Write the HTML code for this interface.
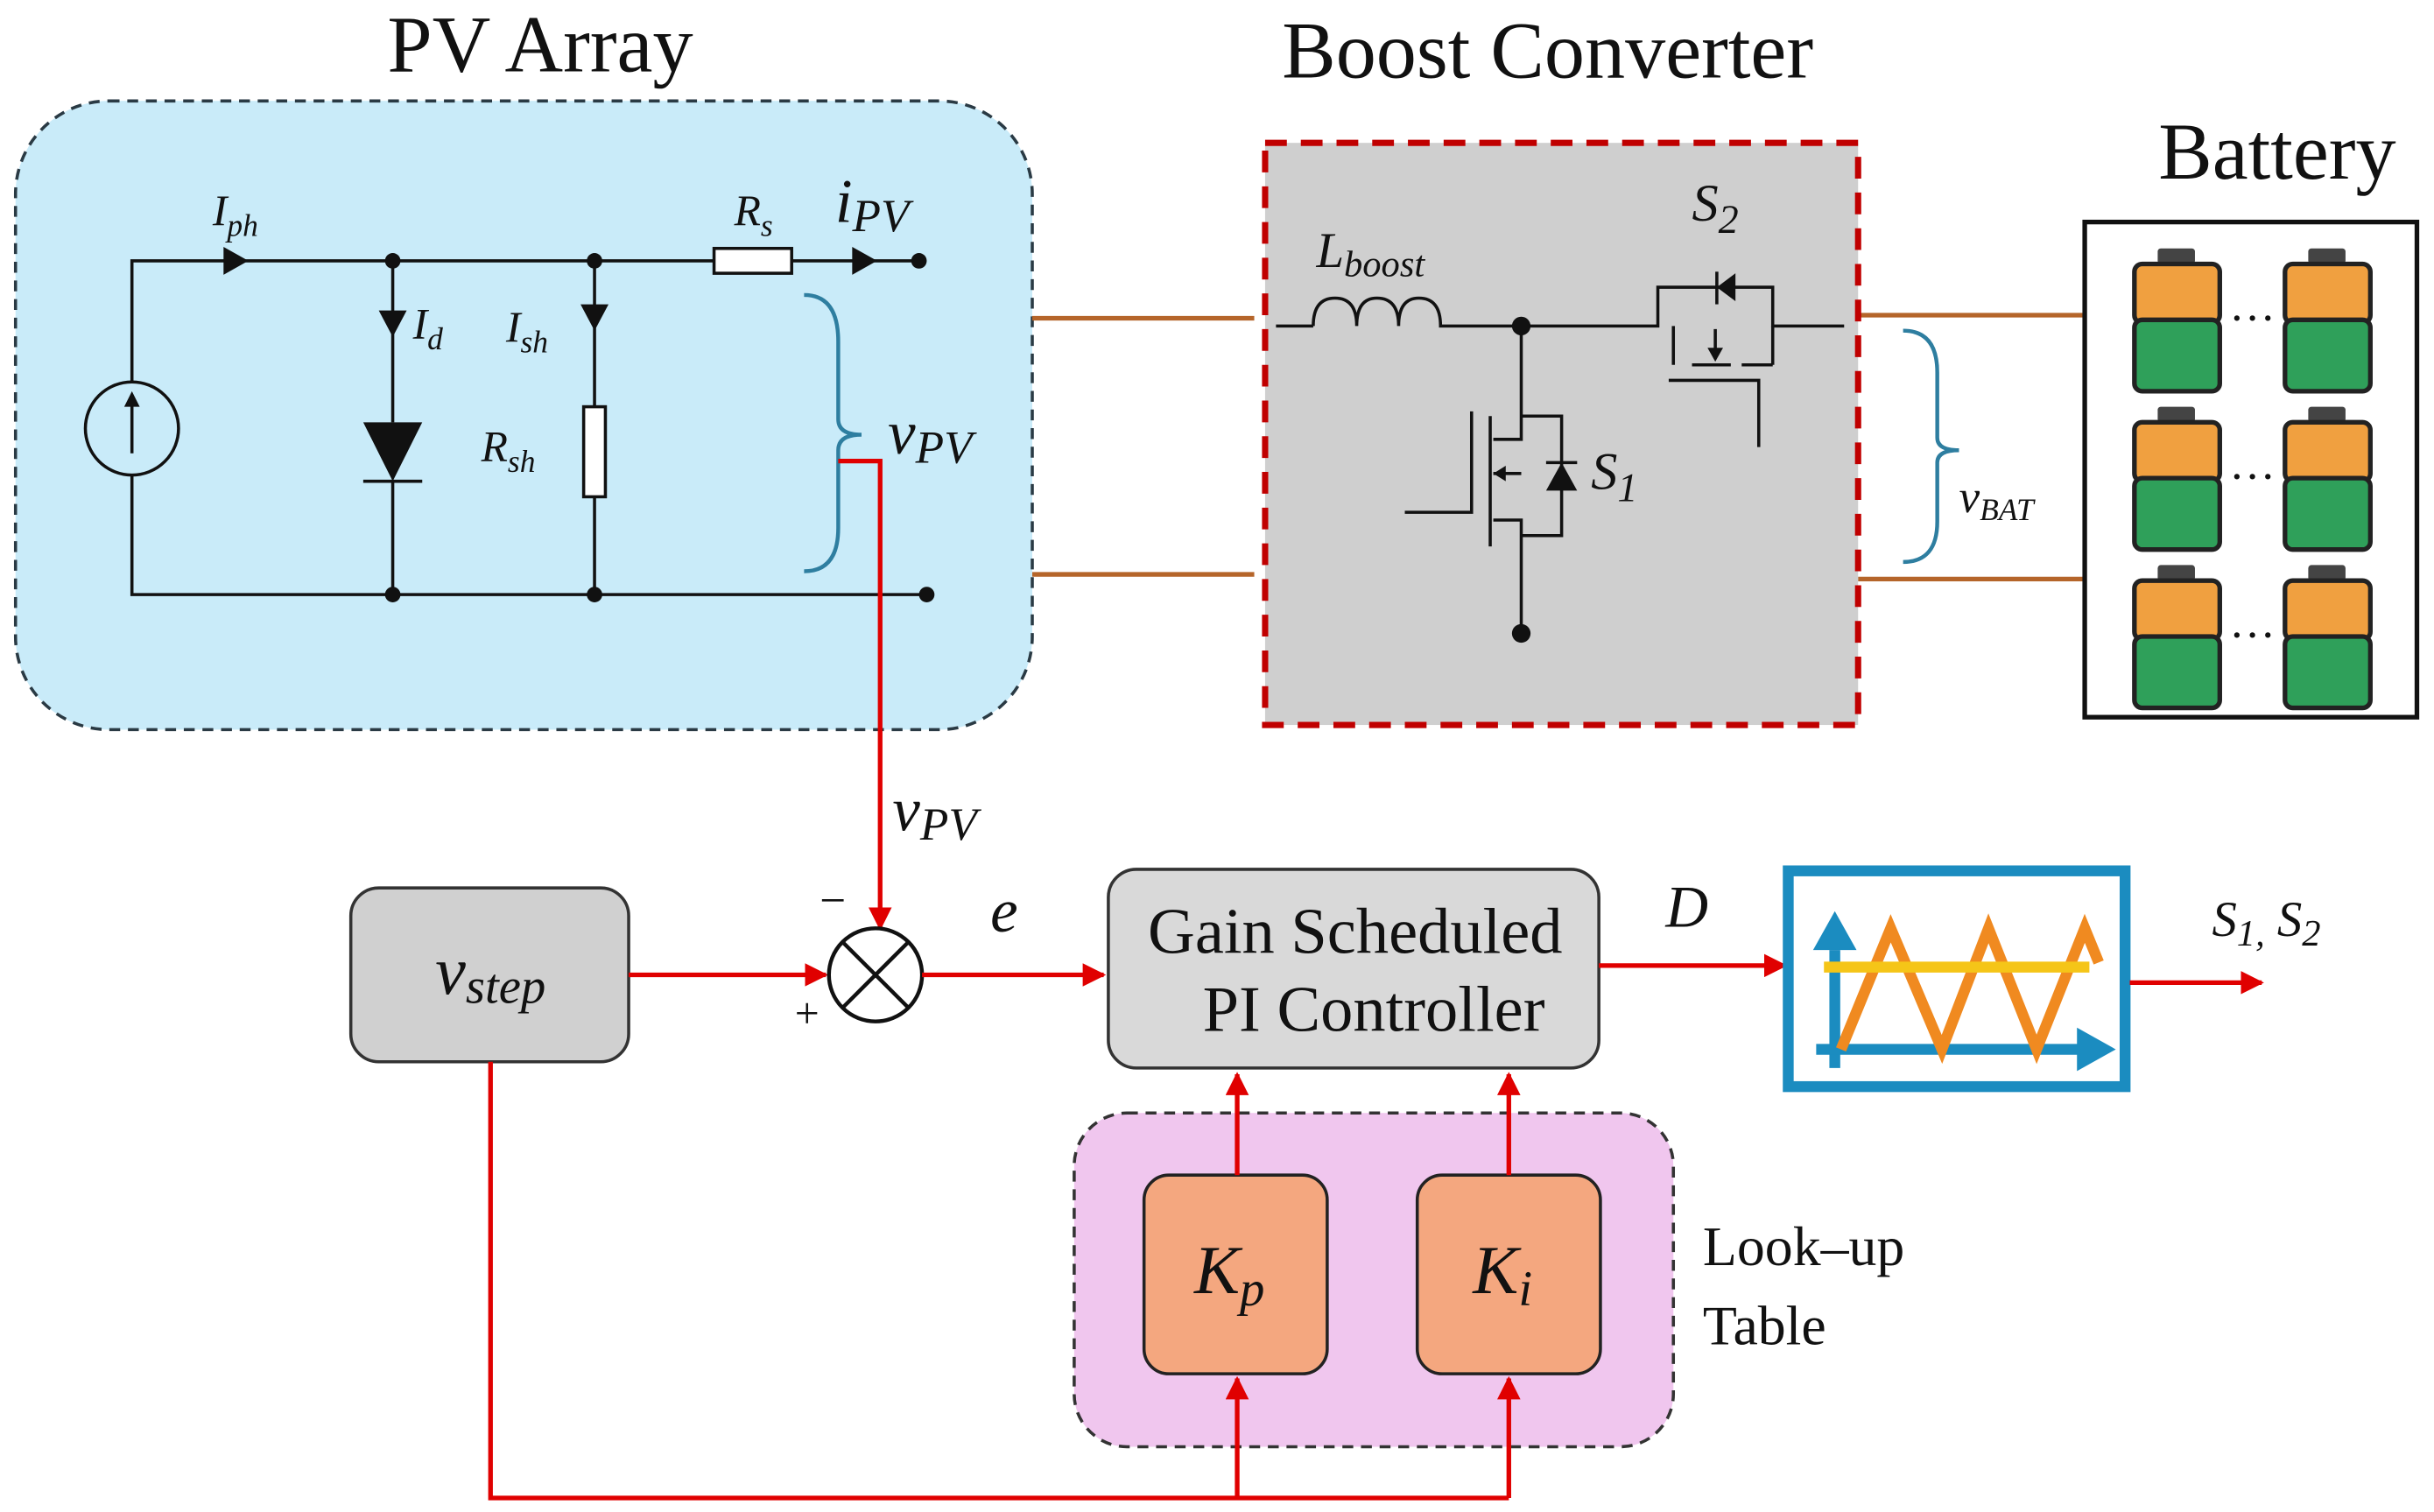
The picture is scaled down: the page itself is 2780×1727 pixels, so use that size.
<!DOCTYPE html>
<html><head><meta charset="utf-8"><style>
html,body{margin:0;padding:0;background:#fff;}
svg{display:block;}
text{font-family:"Liberation Serif",serif;fill:#111;}
.i{font-style:italic;}
</style></head><body>
<svg width="2780" height="1727" viewBox="0 0 1568 974" xmlns="http://www.w3.org/2000/svg">
<defs>
<marker id="ar" viewBox="0 0 10 10" refX="9" refY="5" markerWidth="5" markerHeight="5" orient="auto"><path d="M0,0 L10,5 L0,10 z" fill="#e00000"/></marker>
</defs>
<!-- titles -->
<text x="348" y="46" font-size="52" text-anchor="middle">PV Array</text>
<text x="997" y="50" font-size="52" text-anchor="middle">Boost Converter</text>
<text x="1467" y="115" font-size="52" text-anchor="middle">Battery</text>

<!-- PV box -->
<rect x="10" y="65" width="655" height="405" rx="60" fill="#c9ebf9" stroke="#2a3a44" stroke-width="2" stroke-dasharray="7,5"/>
<g stroke="#111" stroke-width="2" fill="none">
<path d="M85,246 V168 H460 M510,168 H592 M85,306 V383 H597 M253,168 V272 M253,310 V383 M383,168 V262 M383,320 V383"/>
<circle cx="85" cy="276" r="30"/>
<path d="M85,292 V258"/>
<rect x="460" y="160" width="50" height="16" fill="#fff"/>
<rect x="376" y="262" width="14" height="58" fill="#fff"/>
<path d="M234,310 H272"/>
</g>
<g fill="#111">
<path d="M80,262 L85,252 L90,262 z"/>
<path d="M144,159 L160,168 L144,177 z"/>
<path d="M549,159 L565,168 L549,177 z"/>
<path d="M244,200 L253,217 L262,200 z"/>
<path d="M374,196 L383,213 L392,196 z"/>
<path d="M234,272 L272,272 L253,310 z"/>
<circle cx="253" cy="168" r="5"/><circle cx="383" cy="168" r="5"/>
<circle cx="253" cy="383" r="5"/><circle cx="383" cy="383" r="5"/>
<circle cx="592" cy="168" r="5"/><circle cx="597" cy="383" r="5"/>
</g>
<text x="137" y="145" font-size="28" class="i">I<tspan font-size="20" dy="7">ph</tspan></text>
<text x="266" y="218" font-size="28" class="i">I<tspan font-size="20" dy="7">d</tspan></text>
<text x="326" y="220" font-size="28" class="i">I<tspan font-size="20" dy="7">sh</tspan></text>
<text x="310" y="297" font-size="28" class="i">R<tspan font-size="20" dy="7">sh</tspan></text>
<text x="473" y="145" font-size="28" class="i">R<tspan font-size="20" dy="7">s</tspan></text>
<text x="538" y="143" font-size="40" class="i">i<tspan font-size="30" dy="6">PV</tspan></text>
<path d="M518,190 Q540,190 540,220 V270 Q540,280 555,280 Q540,280 540,290 V340 Q540,368 518,368" stroke="#2e7ea0" stroke-width="2.5" fill="none"/>
<text x="572" y="292" font-size="40" class="i">v<tspan font-size="30" dy="6">PV</tspan></text>

<path d="M540,297 H567 V598" stroke="#e00000" stroke-width="3" fill="none" marker-end="url(#ar)"/>
<text x="575" y="535" font-size="40" class="i">v<tspan font-size="30" dy="6">PV</tspan></text>

<g stroke="#b5652a" stroke-width="3">
<path d="M665,205 H808 M665,370 H808 M1197,203 H1343 M1197,373 H1343"/>
</g>

<rect x="815" y="92" width="382" height="375" fill="#cfcfcf" stroke="#c00000" stroke-width="4" stroke-dasharray="14,9"/>
<g stroke="#111" stroke-width="2" fill="none">
<path d="M822,210 H846 M846,210 Q846,192 860,192 Q874,192 874,210 Q874,192 887,192 Q901,192 901,210 Q901,192 914,192 Q928,192 928,210 H1068 V185 H1142 V210 H1188"/>
<path d="M1078,210 V235 M1090,235 H1115 M1122,235 H1142 M1142,210 V235 M1105,212 V230 M1075,245 H1133 V288"/>
<path d="M1106,175 V196"/>
<path d="M980,210 V268 H1006 V345 H980 V408 M980,268 V283 H962 M962,335 H980 V345 M948,265 V330 H905 M960,268 V352 M980,305 H962 M996,298 H1016"/>
</g>
<g fill="#111">
<path d="M1118,176 L1106,185 L1118,194 z"/>
<path d="M1100,224 L1105,233 L1110,224 z"/>
<path d="M962,305 L970,300 L970,310 z"/>
<path d="M996,316 L1016,316 L1006,298 z"/>
<circle cx="980" cy="210" r="6"/><circle cx="980" cy="408" r="6"/>
</g>
<text x="848" y="172" font-size="32" class="i">L<tspan font-size="24" dy="6">boost</tspan></text>
<text x="1090" y="142" font-size="34" class="i">S<tspan font-size="26" dy="8">2</tspan></text>
<text x="1025" y="315" font-size="34" class="i">S<tspan font-size="26" dy="8">1</tspan></text>

<rect x="1343" y="143" width="214" height="319" fill="#fff" stroke="#111" stroke-width="3"/>
<g>
<g id="cell">
<rect x="1390" y="160" width="24" height="10" fill="#444" rx="2"/>
<rect x="1375" y="170" width="55" height="38" fill="#f0a040" stroke="#222" stroke-width="3" rx="5"/>
<rect x="1375" y="206" width="55" height="46" fill="#2fa05a" stroke="#222" stroke-width="3" rx="5"/>
</g>
<use href="#cell" x="97"/><use href="#cell" y="102"/><use href="#cell" x="97" y="102"/><use href="#cell" y="204"/><use href="#cell" x="97" y="204"/>
</g>
<text x="1451" y="215" font-size="30" text-anchor="middle">···</text>
<text x="1451" y="317" font-size="30" text-anchor="middle">···</text>
<text x="1451" y="419" font-size="30" text-anchor="middle">···</text>
<path d="M1226,213 Q1248,213 1248,240 V282 Q1248,290 1262,290 Q1248,290 1248,298 V336 Q1248,362 1226,362" stroke="#2e7ea0" stroke-width="2.5" fill="none"/>
<text x="1262" y="330" font-size="30" class="i">v<tspan font-size="20" dy="5">BAT</tspan></text>

<rect x="226" y="572" width="179" height="112" rx="18" fill="#d0d0d0" stroke="#333" stroke-width="2"/>
<text x="316" y="640" font-size="44" class="i" text-anchor="middle">v<tspan font-size="32" dy="6">step</tspan></text>
<path d="M405,628 H532" stroke="#e00000" stroke-width="3" marker-end="url(#ar)"/>
<circle cx="564" cy="628" r="30" fill="#fff" stroke="#111" stroke-width="2.5"/>
<path d="M543,607 L585,649 M585,607 L543,649" stroke="#111" stroke-width="2.5"/>
<text x="512" y="662" font-size="28">+</text>
<text x="528" y="590" font-size="30">−</text>
<text x="638" y="600" font-size="40" class="i">e</text>
<path d="M594,628 H711" stroke="#e00000" stroke-width="3" marker-end="url(#ar)"/>
<rect x="714" y="560" width="316" height="128" rx="18" fill="#d9d9d9" stroke="#333" stroke-width="2"/>
<text x="873" y="614" font-size="42" text-anchor="middle">Gain Scheduled</text>
<text x="885" y="664" font-size="42" text-anchor="middle">PI Controller</text>
<text x="1073" y="597" font-size="38" class="i">D</text>
<path d="M1030,622 H1150" stroke="#e00000" stroke-width="3" marker-end="url(#ar)"/>
<rect x="1152" y="561" width="217" height="139" fill="#fff" stroke="#1b8cc0" stroke-width="7"/>
<path d="M1182,688 V612" stroke="#1b8cc0" stroke-width="7"/>
<path d="M1168,612 L1182,587 L1196,612 z" fill="#1b8cc0"/>
<path d="M1170,676 H1342" stroke="#1b8cc0" stroke-width="7"/>
<path d="M1338,662 L1363,676 L1338,690 z" fill="#1b8cc0"/>
<path d="M1186,676 L1218,598 L1251,676 L1281,598 L1312,676 L1343,598 L1352,620" stroke="#f08a20" stroke-width="7" fill="none"/>
<path d="M1175,623 H1346" stroke="#f5c518" stroke-width="7"/>
<path d="M1372,633 H1457" stroke="#e00000" stroke-width="3" marker-end="url(#ar)"/>
<text x="1425" y="603" font-size="32" class="i">S<tspan font-size="24" dy="6">1,</tspan><tspan font-size="32" dy="-6"> S</tspan><tspan font-size="24" dy="6">2</tspan></text>

<rect x="692" y="717" width="386" height="215" rx="34" fill="#f0c6ee" stroke="#333" stroke-width="2" stroke-dasharray="7,5"/>
<rect x="737" y="757" width="118" height="128" rx="16" fill="#f4a77f" stroke="#222" stroke-width="2"/>
<rect x="913" y="757" width="118" height="128" rx="16" fill="#f4a77f" stroke="#222" stroke-width="2"/>
<text x="792" y="833" font-size="44" class="i" text-anchor="middle">K<tspan font-size="32" dy="8">p</tspan></text>
<text x="968" y="833" font-size="44" class="i" text-anchor="middle">K<tspan font-size="32" dy="8">i</tspan></text>
<text x="1097" y="815" font-size="36">Look–up</text>
<text x="1097" y="866" font-size="36">Table</text>
<g stroke="#e00000" stroke-width="3" fill="none">
<path d="M797,757 V692" marker-end="url(#ar)"/>
<path d="M972,757 V692" marker-end="url(#ar)"/>
<path d="M316,684 V965 H972"/>
<path d="M797,965 V888" marker-end="url(#ar)"/>
<path d="M972,965 V888" marker-end="url(#ar)"/>
</g>
</svg>
</body></html>
